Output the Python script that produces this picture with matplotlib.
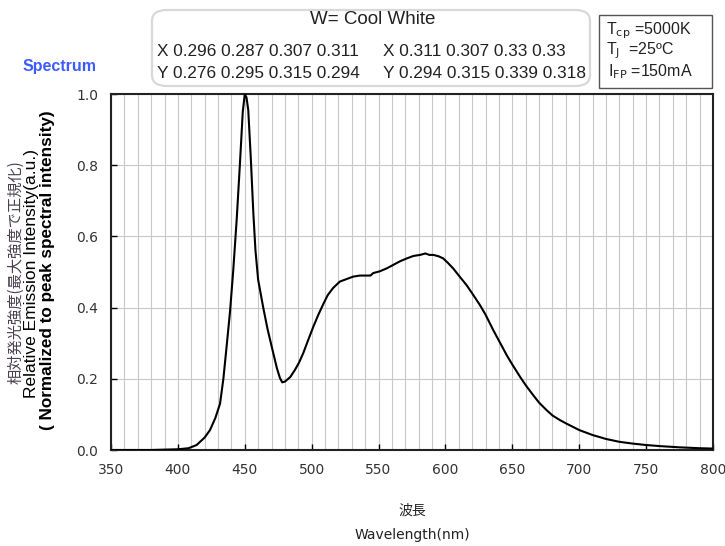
import matplotlib
matplotlib.use("Agg")
import matplotlib.pyplot as plt
from matplotlib.patches import FancyBboxPatch, Rectangle

# ---- data ----
wavelength = [350, 380, 400, 408, 414, 420, 424, 428, 431.5, 434, 436.4, 439, 441.4, 444,
              446.4, 448.5, 450, 451.3, 452.6, 454.5, 456.4, 458, 460, 463.8, 467, 471.3,
              474, 476.3, 478, 480, 484, 487.5, 490.5, 493.7, 497, 501.2, 505, 508.7, 512,
              516, 521, 526, 531, 536, 541, 544, 546, 551, 556, 561, 566, 571, 576, 581,
              585, 588, 591, 595, 598.4, 602, 605.8, 610, 615.8, 620, 625.8, 630, 635.7,
              640, 645.7, 650, 655.7, 660, 665.6, 670, 675.6, 680, 685.6, 690, 700, 710,
              715.5, 720, 730, 740, 750, 760, 775, 790, 800]
intensity = [0.0, 0.0, 0.002, 0.005, 0.014, 0.035, 0.056, 0.09, 0.13, 0.2, 0.29, 0.39, 0.506,
             0.65, 0.806, 0.95, 1.0, 0.99, 0.955, 0.82, 0.665, 0.56, 0.478, 0.40, 0.34, 0.272,
             0.23, 0.202, 0.19, 0.192, 0.205, 0.225, 0.245, 0.272, 0.305, 0.346, 0.38, 0.41,
             0.435, 0.455, 0.473, 0.48, 0.487, 0.49, 0.49, 0.49, 0.497, 0.502, 0.51, 0.52,
             0.53, 0.538, 0.545, 0.548, 0.552, 0.548, 0.548, 0.544, 0.538, 0.525, 0.51, 0.49,
             0.463, 0.44, 0.407, 0.38, 0.337, 0.307, 0.267, 0.24, 0.206, 0.182, 0.154, 0.133,
             0.112, 0.097, 0.084, 0.075, 0.056, 0.042, 0.036, 0.031, 0.023, 0.018, 0.014,
             0.011, 0.0075, 0.005, 0.004]
x_ticks = [350, 400, 450, 500, 550, 600, 650, 700, 750, 800]
y_ticks = [0.0, 0.2, 0.4, 0.6, 0.8, 1.0]
x_row_left = ["0.296", "0.287", "0.307", "0.311"]
y_row_left = ["0.276", "0.295", "0.315", "0.294"]
x_row_right = ["0.311", "0.307", "0.33", "0.33"]
y_row_right = ["0.294", "0.315", "0.339", "0.318"]

W, H = 725, 546
fig = plt.figure(figsize=(W / 100, H / 100), dpi=100)

def fx(px):
    return px / W

def fy(py):
    return 1 - py / H

ax = fig.add_axes([fx(111), fy(450), fx(713) - fx(111), fy(94) - fy(450)])
ax.plot(wavelength, intensity, color="black", lw=1.5, zorder=3)
ax.set_xlim(350, 800)
ax.set_ylim(0, 1.0)
ax.set_xticks(x_ticks)
ax.set_xticks(range(350, 801, 10), minor=True)
ax.set_yticks(y_ticks)
ax.set_yticklabels([f"{v:.1f}" for v in y_ticks])
ax.grid(True, which="minor", axis="x", color="#c8c8c8", lw=0.8)
ax.grid(True, which="major", axis="x", color="#c8c8c8", lw=0.8)
ax.grid(True, which="major", axis="y", color="#c8c8c8", lw=0.8)
ax.set_axisbelow(True)
ax.tick_params(axis="both", which="major", direction="in", length=4, width=1,
               labelsize=10, labelcolor="#333333", pad=9)
ax.tick_params(axis="both", which="minor", length=0)
for lab in ax.get_xticklabels() + ax.get_yticklabels():
    lab.set_family("DejaVu Sans")
for s in ax.spines.values():
    s.set_linewidth(1.5)
    s.set_color("#222222")

# x-axis labels
fig.text(fx(412), fy(511), "波長", ha="center", va="center", fontsize=10,
         family=["Noto Sans CJK JP", "DejaVu Sans"], color="#222222")
fig.text(fx(412), fy(535), "Wavelength(nm)", ha="center", va="center", fontsize=10,
         family="DejaVu Sans", color="#222222")

# y-axis labels
fig.text(fx(16), fy(272), "相対発光強度(最大強度で正規化)", rotation=90, ha="center", va="center",
         fontsize=11, family=["Noto Sans CJK JP", "DejaVu Sans"], color="#4a4050")
fig.text(fx(32), fy(273), "Relative Emission Intensity(a.u.)", rotation=90, ha="center",
         va="center", fontsize=12.5, family="Liberation Sans", color="black")
fig.text(fx(48), fy(270), "( Normalized to peak spectral intensity)", rotation=90, ha="center",
         va="center", fontsize=12.3, family="Liberation Sans", weight="bold", color="black")

# Spectrum title
fig.text(fx(60), fy(66), "Spectrum", ha="center", va="center", fontsize=11.5,
         family="Liberation Sans", weight="bold", color="#3d5cff")

# rounded chromaticity box
box = FancyBboxPatch((fx(152), fy(86)), fx(590) - fx(152), fy(10) - fy(86),
                     boxstyle="round,pad=0,rounding_size=0.02", transform=fig.transFigure,
                     facecolor="white", edgecolor="#d8d8d8", lw=1.6)
fig.patches.append(box)
fig.text(fx(373), fy(20), "W= Cool White", ha="center", va="center", fontsize=13.5,
         family="Liberation Sans", color="#222222")
fs_row = 12.4
fig.text(fx(157), fy(51), "X " + " ".join(x_row_left), ha="left", va="center",
         fontsize=fs_row, family="Liberation Sans", color="#222222")
fig.text(fx(157), fy(73), "Y " + " ".join(y_row_left), ha="left", va="center",
         fontsize=fs_row, family="Liberation Sans", color="#222222")
fig.text(fx(383), fy(51), "X " + " ".join(x_row_right), ha="left", va="center",
         fontsize=fs_row, family="Liberation Sans", color="#222222")
fig.text(fx(383), fy(73), "Y " + " ".join(y_row_right), ha="left", va="center",
         fontsize=fs_row, family="Liberation Sans", color="#222222")

# conditions box
rect = Rectangle((fx(599), fy(88)), fx(712) - fx(599), fy(15) - fy(88),
                 transform=fig.transFigure, facecolor="white", edgecolor="#555555", lw=1.0)
fig.patches.append(rect)
fig.text(fx(606), fy(31), r"T$_{\mathrm{cp}}$ =5000K", ha="left", va="center", fontsize=11.5,
         family="Liberation Sans", color="#222222")
fig.text(fx(606), fy(51), r"T$_{\mathrm{J}}$  =25ºC", ha="left", va="center", fontsize=11.5,
         family="Liberation Sans", color="#222222")
fig.text(fx(608), fy(72), r"I$_{\mathrm{FP}}$ =150mA", ha="left", va="center", fontsize=11.5,
         family="Liberation Sans", color="#222222")

fig.savefig("out.png", dpi=100)
